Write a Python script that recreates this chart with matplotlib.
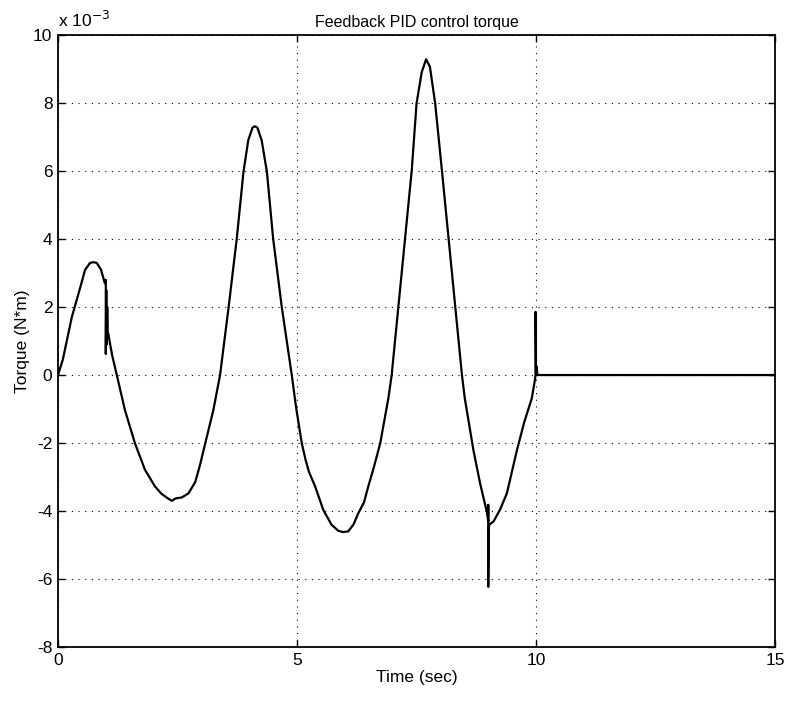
"""
Feedback PID control torque
===========================
MATLAB-style line plot of the control torque vs time
"""

import matplotlib
matplotlib.use("Agg")
import matplotlib.pyplot as plt

# time (sec) and torque (x 1e-3 N*m)
t = [0.00, 0.10, 0.29, 0.45, 0.565, 0.67, 0.74, 0.81, 0.90, 0.98,
     1.00, 1.00, 1.01, 1.02, 1.03, 1.04, 1.05, 1.13, 1.23, 1.40,
     1.61, 1.82, 2.03, 2.17, 2.30, 2.38, 2.46, 2.59, 2.73, 2.87,
     2.97, 3.08, 3.25, 3.39, 3.57, 3.74, 3.88, 3.98, 4.07, 4.12,
     4.17, 4.26, 4.37, 4.50, 4.68, 4.89, 4.98, 5.10, 5.18, 5.25,
     5.38, 5.55, 5.72, 5.86, 5.96, 6.07, 6.18, 6.28, 6.40, 6.49,
     6.60, 6.74, 6.91, 6.98, 7.12, 7.26, 7.40, 7.50, 7.61, 7.70,
     7.78, 7.89, 8.03, 8.17, 8.31, 8.45, 8.51, 8.69, 8.83, 8.97,
     9.00, 9.00, 9.00, 9.01, 9.02, 9.11, 9.25, 9.39, 9.60, 9.75,
     9.91, 9.97, 9.99, 9.99, 10.00, 10.01, 10.03, 15.00]
torque = [0.00, 0.45, 1.71, 2.50, 3.09, 3.30, 3.32, 3.30, 3.10, 2.70,
          2.80, 0.62, 2.50, 0.90, 2.00, 1.20, 1.23, 0.60, 0.00, -1.03,
          -2.01, -2.79, -3.28, -3.50, -3.63, -3.70, -3.63, -3.60, -3.48, -3.15,
          -2.65, -2.01, -1.03, 0.00, 2.01, 4.02, 5.98, 6.91, 7.28, 7.32,
          7.28, 6.91, 5.98, 4.02, 2.01, 0.00, -0.95, -2.01, -2.50, -2.85,
          -3.28, -3.97, -4.40, -4.58, -4.62, -4.60, -4.40, -4.07, -3.75, -3.28,
          -2.75, -2.01, -0.69, 0.00, 2.01, 4.02, 6.03, 7.99, 8.92, 9.29,
          9.07, 7.99, 6.03, 4.02, 2.01, 0.00, -0.69, -2.21, -3.19, -4.02,
          -4.30, -3.82, -6.23, -4.60, -4.40, -4.31, -3.95, -3.48, -2.21, -1.40,
          -0.69, -0.20, 0.00, 1.86, 0.00, 0.25, 0.00, 0.00]

xticks = [0, 5, 10, 15]
yticks = [-8, -6, -4, -2, 0, 2, 4, 6, 8, 10]

plt.rcParams['font.family'] = ['Liberation Sans', 'DejaVu Sans']

fig = plt.figure(figsize=(7.88, 7.03), dpi=100)
ax = fig.add_axes([0.0736, 0.0797, 0.91, 0.8703])

ax.plot(t, torque, color='black', linewidth=1.6)

ax.set_xlim(0, 15)
ax.set_ylim(-8, 10)
ax.set_xticks(xticks)
ax.set_yticks(yticks)
ax.set_xticklabels([str(v) for v in xticks], fontsize=12.5)
ax.set_yticklabels([str(v) for v in yticks], fontsize=12.5)
ax.tick_params(direction='in', top=True, right=True, length=5, width=1, pad=4)

ax.grid(True, color='black', linestyle=(0, (1, 5)), linewidth=0.8)
for s in ax.spines.values():
    s.set_linewidth(1.3)

ax.set_title("Feedback PID control torque", fontsize=11.5, pad=6)
ax.set_xlabel("Time (sec)", fontsize=12.5, labelpad=2)
ax.set_ylabel("Torque (N*m)", fontsize=12.5, labelpad=2)
ax.text(0.0, 1.008, r'x 10$^{-3}$', transform=ax.transAxes, fontsize=12.5,
        ha='left', va='bottom')

plt.savefig("out.png", dpi=100)
